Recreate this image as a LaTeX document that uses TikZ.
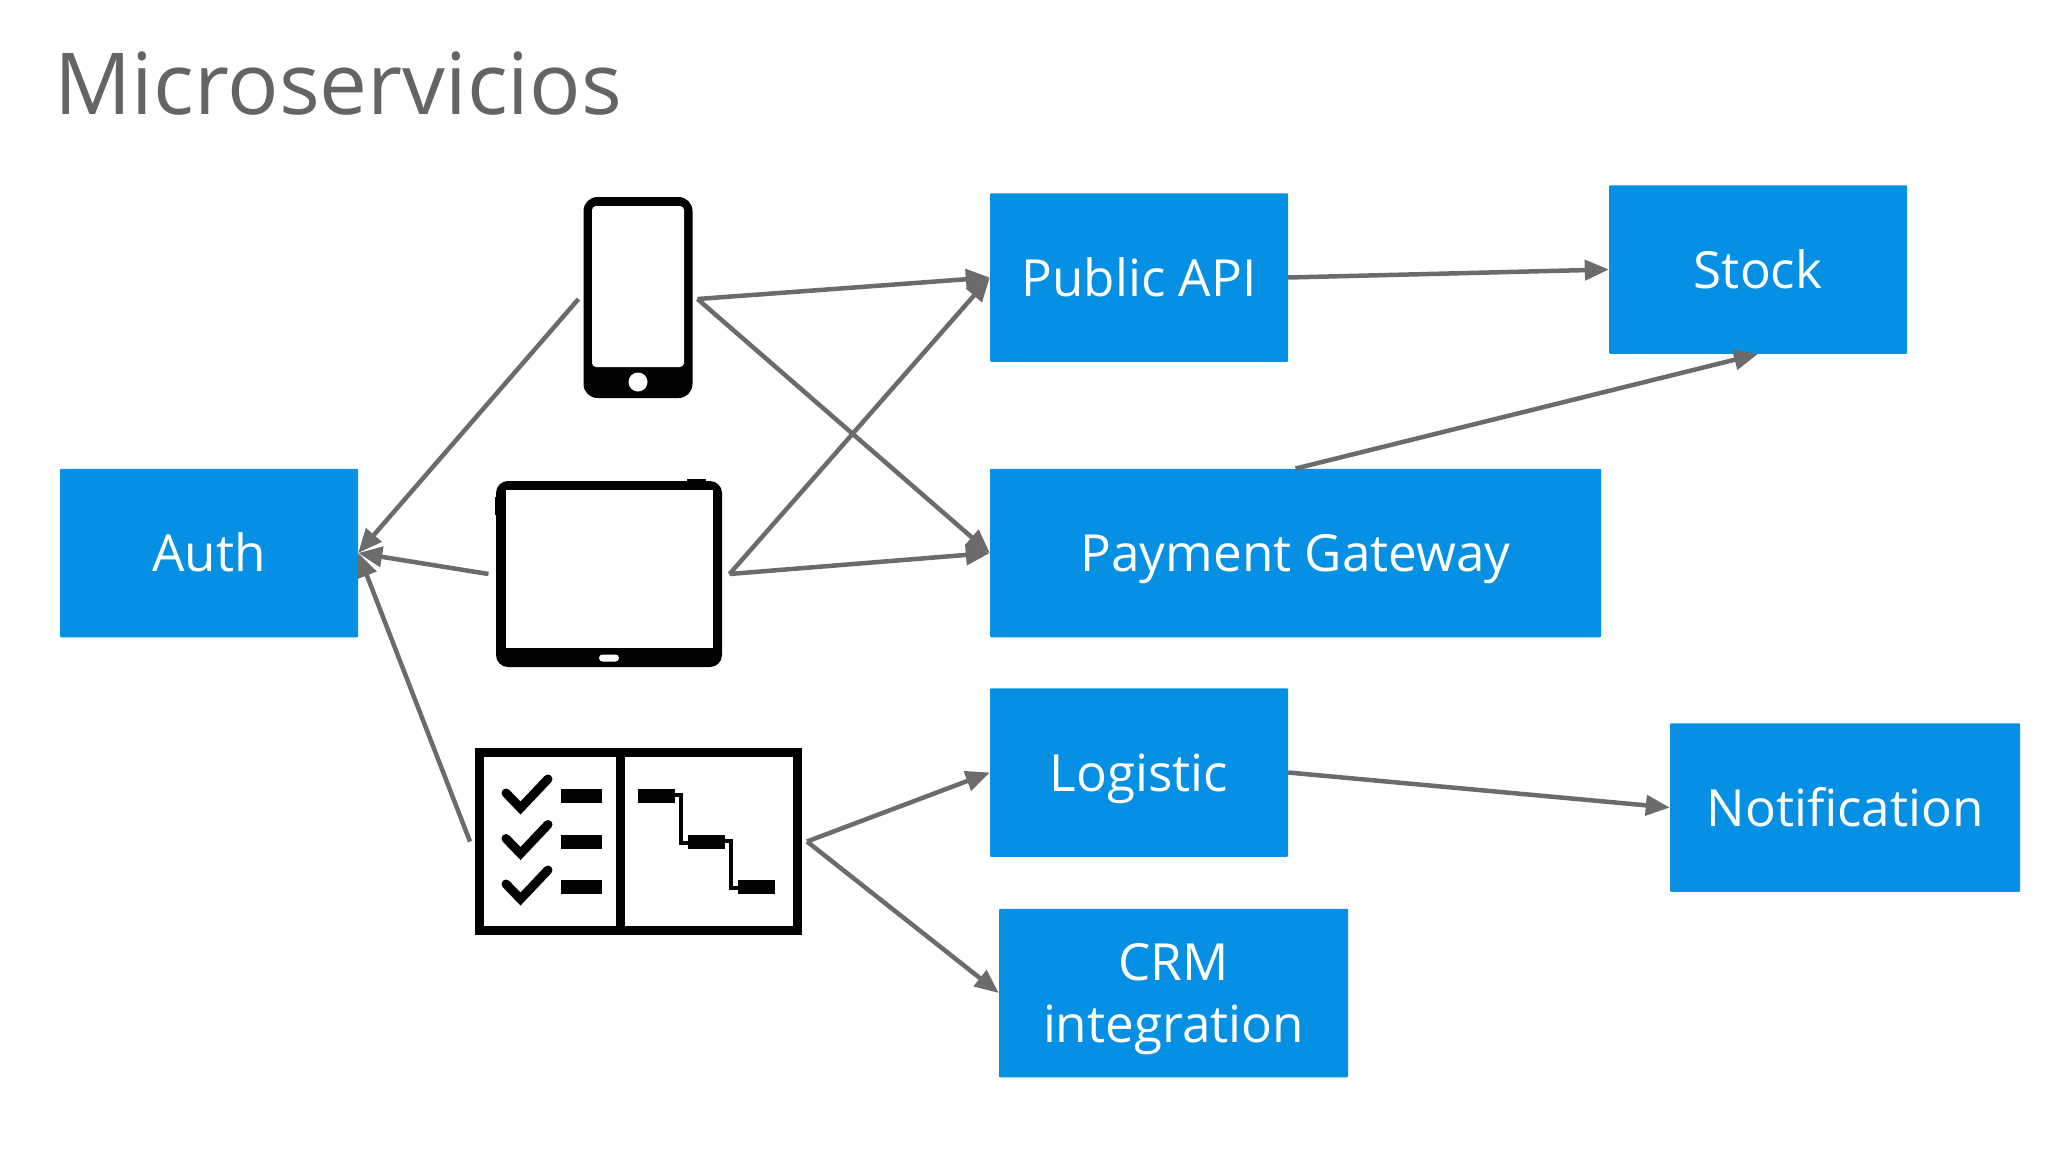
\documentclass[tikz,border=0pt]{standalone}
\usepackage{fontspec}
\setmainfont{Open Sans}
\usetikzlibrary{arrows.meta}
\definecolor{boxblue}{RGB}{5,144,227}
\definecolor{linegray}{RGB}{107,107,107}
\definecolor{titlegray}{RGB}{100,100,100}
\tikzset{
  service/.style = {align=center, inner sep=0pt, text centered, fill=boxblue,
    text=white, rounded corners=1pt, minimum height=168.5pt,
    text height=37pt, text depth=0pt,
    font=\fontsize{51.2}{62.5}\selectfont},
  device/.style = {inner sep=0pt, fill=black},
  link/.style = {-{Triangle[length=24pt,width=20pt]}, draw=linegray, line width=4.5pt},
  tick/.style = {draw=black, line width=9pt, line cap=round, line join=miter},
  ganttline/.style = {draw=black, line width=4pt}
}
\begin{document}
\begin{tikzpicture}[x=1pt,y=-1pt]
\useasboundingbox (0,0) rectangle (2048,1152);
\node [anchor=base west, inner sep=0pt, text=titlegray,
  font=\fontsize{85.5}{100}\selectfont] (title) at (54.5,114) {Microservicios};

% services
\node [service, minimum width=298pt] (auth) at (209,553) {Auth};
\node [service, minimum width=298pt] (public) at (1139,277.5) {Public API};
\node [service, minimum width=298pt] (stock) at (1758,269.5) {Stock};
\node [service, minimum width=611pt] (payment) at (1295.5,553) {Payment Gateway};
\node [service, minimum width=298pt] (logistic) at (1139,772.5) {Logistic};
\node [service, minimum width=350pt] (notification) at (1845,807.5) {Notification};
\node [service, minimum width=349pt, text height=99.5pt] (crm) at (1173.5,993) {CRM\\integration};

% phone
\node [device, rounded corners=14pt, minimum width=109pt, minimum height=201pt,
  outer xsep=5pt] (phone) at (638,297.5) {};
\fill [white, rounded corners=4pt] (592,206) rectangle (684,367);
\fill [white] (638,382) circle (9.5);

% tablet
\node [device, rounded corners=12pt, minimum width=226pt, minimum height=186pt,
  outer xsep=7.5pt] (tablet) at (609,574) {};
\fill (687,479) rectangle (706,484);
\fill (495,497) rectangle (498,515);
\fill [white] (505.5,490) rectangle (713,648);
\fill [white, rounded corners=3.5pt] (599,654.5) rectangle (619,661.5);

% planning board
\node [device, minimum width=327pt, minimum height=187pt,
  outer xsep=5pt] (board) at (638.5,841.5) {};
\fill [white] (484,757) rectangle (616,926);
\fill [white] (624.5,757) rectangle (793,926);
\draw [tick] (506,793) -- (520.5,808) -- (548,779);
\draw [tick] (506,838.5) -- (520.5,853.5) -- (548,824.5);
\draw [tick] (506,884) -- (520.5,899) -- (548,870);
\fill (561,789) rectangle (602,803);
\fill (561,835) rectangle (602,849);
\fill (561,880) rectangle (602,894);
\fill (638,789) rectangle (675,803);
\fill (688,835) rectangle (725,849);
\fill (738,880) rectangle (774.5,894);
\draw [ganttline] (675,795) -| (681,843) -- (688,843);
\draw [ganttline] (725,841) -| (731,888) -- (738,888);

% links
\draw [link] ([yshift=-1.5pt]phone.west) -- (auth.east);
\draw [link] (tablet.west) -- (auth.east);
\draw [link] (board.west) -- (auth.east);
\draw [link] ([yshift=-1.5pt]phone.east) -- (public.west);
\draw [link] ([yshift=-1.5pt]phone.east) -- (payment.west);
\draw [link] (tablet.east) -- (public.west);
\draw [link] (tablet.east) -- (payment.west);
\draw [link] (public.east) -- (stock.west);
\draw [link] (payment.north) -- (stock.south);
\draw [link] (board.east) -- (logistic.west);
\draw [link] (board.east) -- (crm.west);
\draw [link] (logistic.east) -- (notification.west);
\end{tikzpicture}
\end{document}
